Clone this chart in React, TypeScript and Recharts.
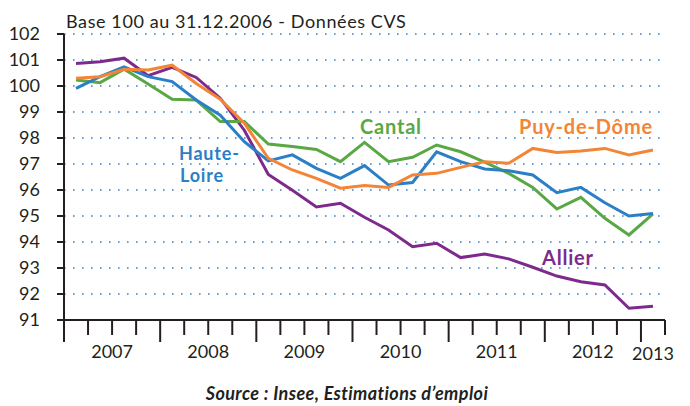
import React from 'react';
import { LineChart, Line, XAxis, YAxis, CartesianGrid } from 'recharts';

/* ------------------------------------------------------------------ */
/*  Data – emploi salarié, base 100 au 31.12.2006, par trimestre      */
/* ------------------------------------------------------------------ */
const QUARTERS = [
  '2007T1', '2007T2', '2007T3', '2007T4',
  '2008T1', '2008T2', '2008T3', '2008T4',
  '2009T1', '2009T2', '2009T3', '2009T4',
  '2010T1', '2010T2', '2010T3', '2010T4',
  '2011T1', '2011T2', '2011T3', '2011T4',
  '2012T1', '2012T2', '2012T3', '2012T4',
  '2013T1',
];

const ALLIER = [
  100.87, 100.93, 101.07, 100.4, 100.72, 100.33, 99.53, 98.3, 96.6, 95.99,
  95.35, 95.49, 94.95, 94.46, 93.82, 93.95, 93.4, 93.54, 93.35, 93.03,
  92.69, 92.47, 92.35, 91.45, 91.53,
];
const PUY_DE_DOME = [
  100.3, 100.36, 100.64, 100.62, 100.8, 100.1, 99.49, 98.57, 97.22, 96.77,
  96.45, 96.07, 96.17, 96.1, 96.58, 96.64, 96.87, 97.09, 97.03, 97.6,
  97.44, 97.5, 97.6, 97.35, 97.54,
];
const HAUTE_LOIRE = [
  99.91, 100.36, 100.74, 100.36, 100.17, 99.46, 98.88, 97.86, 97.12, 97.35,
  96.83, 96.45, 96.94, 96.19, 96.29, 97.47, 97.09, 96.81, 96.74, 96.58,
  95.9, 96.1, 95.51, 95.0, 95.1,
];
const CANTAL = [
  100.23, 100.13, 100.65, 100.08, 99.49, 99.46, 98.63, 98.63, 97.77, 97.67,
  97.56, 97.09, 97.83, 97.09, 97.26, 97.73, 97.47, 97.07, 96.64, 96.1,
  95.27, 95.72, 94.91, 94.27, 95.08,
];

const YEARS = ['2007', '2008', '2009', '2010', '2011', '2012', '2013'];
const Y_TICKS = [91, 92, 93, 94, 95, 96, 97, 98, 99, 100, 101, 102];

/* ------------------------------------------------------------------ */
/*  Palette                                                           */
/* ------------------------------------------------------------------ */
const PURPLE = '#7d2a8c';
const ORANGE = '#f38536';
const BLUE = '#2b7fc6';
const GREEN = '#5aa845';
const INK = '#231f20';
const FONT = 'Lato, "Open Sans", sans-serif';

// each quarter sits in the middle of its slot on a 0..25 axis
const data = QUARTERS.map((q, i) => ({
  q,
  pos: i + 0.5,
  allier: ALLIER[i],
  puy: PUY_DE_DOME[i],
  haute: HAUTE_LOIRE[i],
  cantal: CANTAL[i],
}));

// quarter boundaries + the centre of the last (partial) year for its label
const X_TICKS = [...QUARTERS.map((_, i) => i), QUARTERS.length, QUARTERS.length - 0.5];

const XTick = (props: any) => {
  const { x, y, payload } = props;
  const v = payload.value as number;
  if (!Number.isInteger(v)) {
    // 2013 label only
    return (
      <text x={x} y={y + 40} textAnchor="middle" fontSize={18} fill={INK} fontFamily={FONT}>
        {YEARS[YEARS.length - 1]}
      </text>
    );
  }
  const long = v % 4 === 0 && v < QUARTERS.length;
  return (
    <g>
      <line x1={x} x2={x} y1={y} y2={y + (long ? 22 : 15)} stroke={INK} strokeWidth={2} />
      {v % 4 === 2 && (
        <text x={x} y={y + 38} textAnchor="middle" fontSize={18} fill={INK} fontFamily={FONT}>
          {YEARS[(v - 2) / 4]}
        </text>
      )}
    </g>
  );
};

const labelStyle = { fontFamily: FONT, fontWeight: 700, fontSize: 20, letterSpacing: 0.8 } as const;

export default function App() {
  return (
    <div style={{ position: 'absolute', left: 0, top: 0, width: 690, height: 406, background: '#fff' }}>
      <LineChart
        width={690}
        height={406}
        data={data}
        margin={{ top: 34, right: 25, bottom: 46, left: 0 }}
      >
        <CartesianGrid
          horizontal
          vertical={false}
          stroke="#3f7fcf"
          strokeWidth={1.6}
          strokeDasharray="1.6 7.4"
        />
        <XAxis
          dataKey="pos"
          type="number"
          domain={[0, QUARTERS.length]}
          ticks={X_TICKS}
          interval={0}
          height={40}
          tickSize={0}
          tickMargin={0}
          tickLine={false}
          axisLine={{ stroke: INK, strokeWidth: 2 }}
          tick={<XTick />}
        />
        <YAxis
          domain={[91, 102]}
          ticks={Y_TICKS}
          interval={0}
          width={64}
          tickSize={7}
          tickMargin={17}
          axisLine={{ stroke: INK, strokeWidth: 2 }}
          tickLine={{ stroke: INK, strokeWidth: 2 }}
          tick={{ fontSize: 18, fill: INK, fontFamily: FONT }}
        />
        <Line dataKey="allier" stroke={PURPLE} strokeWidth={3} dot={false} isAnimationActive={false} />
        <Line dataKey="cantal" stroke={GREEN} strokeWidth={3} dot={false} isAnimationActive={false} />
        <Line dataKey="haute" stroke={BLUE} strokeWidth={3} dot={false} isAnimationActive={false} />
        <Line dataKey="puy" stroke={ORANGE} strokeWidth={3} dot={false} isAnimationActive={false} />
      </LineChart>

      {/* title, series names and source */}
      <svg width={690} height={406} style={{ position: 'absolute', left: 0, top: 0, pointerEvents: 'none' }}>
        <text x={66} y={28} fontSize={18} letterSpacing={0.6} fill={INK} fontFamily={FONT}>
          Base 100 au 31.12.2006 - Données CVS
        </text>
        <text x={360} y={134} fill={GREEN} {...labelStyle}>Cantal</text>
        <text x={519} y={134} fill={ORANGE} {...labelStyle}>Puy-de-Dôme</text>
        <text x={179} y={160} fill={BLUE} {...labelStyle} fontSize={18}>Haute-</text>
        <text x={180} y={182} fill={BLUE} {...labelStyle} fontSize={18}>Loire</text>
        <text x={542} y={265} fill={PURPLE} {...labelStyle}>Allier</text>
        <text
          x={347}
          y={400}
          textAnchor="middle"
          fontSize={18}
          letterSpacing={0.4}
          fontStyle="italic"
          fontWeight={700}
          fill={INK}
          fontFamily={FONT}
        >
          Source : Insee, Estimations d’emploi
        </text>
      </svg>
    </div>
  );
}
